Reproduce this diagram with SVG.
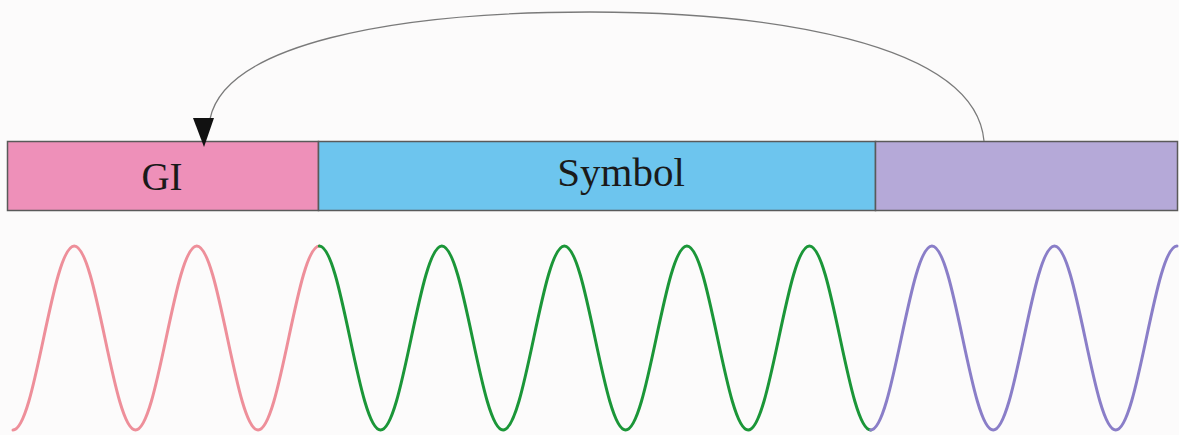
<svg xmlns="http://www.w3.org/2000/svg" width="1179" height="435" viewBox="0 0 1179 435">
  <style>
    .seg { stroke: #5a5a5a; stroke-width: 1.5; }
    .lbl { font-family: "Liberation Serif", "Times New Roman", serif; fill: #1a1a1a; text-anchor: middle; }
    .wave { fill: none; stroke-width: 3; stroke-linecap: round; }
    .conn { fill: none; stroke: #7a7a7a; stroke-width: 1.3; }
  </style>
  <rect x="0" y="0" width="1179" height="435" fill="#fcfbfb"/>
  <g id="gi">
    <rect class="seg" x="7.5" y="141.5" width="311" height="69" fill="#ee90b9"/>
    <text class="lbl" x="162" y="190" font-size="39">GI</text>
  </g>
  <g id="symbol">
    <rect class="seg" x="318.5" y="141.5" width="557" height="69" fill="#6dc5ee"/>
    <text class="lbl" x="621" y="186" font-size="41">Symbol</text>
  </g>
  <g id="cp">
    <rect class="seg" x="875.5" y="141.5" width="302" height="69" fill="#b5a9d8"/>
  </g>
  <g id="connectors">
    <path class="conn" d="M984,141 C975,40 760,12 590,12 C390,12 225,45 210,119"/>
    <polygon points="193,118 214,118 204,147" fill="#111"/>
  </g>
  <g id="waves">
    <path class="wave" stroke="#ee8f9a" d="M13,430 C35.3,430 51.96,246 74.26,246 S113.23,430 135.53,430 S174.49,246 196.79,246 S235.75,430 258.05,430 S297.02,246 319.32,246"/>
    <path class="wave" stroke="#1b9638" d="M319.32,246 C341.62,246 358.28,430 380.58,430 S419.54,246 441.84,246 S480.8,430 503.1,430 S542.07,246 564.37,246 S603.33,430 625.63,430 S664.59,246 686.89,246 S725.86,430 748.16,430 S787.12,246 809.42,246 S848.38,430 870.68,430"/>
    <path class="wave" stroke="#8a7ec8" d="M870.68,430 C892.98,430 909.65,246 931.95,246 S970.91,430 993.21,430 S1032.17,246 1054.47,246 S1093.44,430 1115.74,430 S1154.7,246 1177,246"/>
  </g>
</svg>
